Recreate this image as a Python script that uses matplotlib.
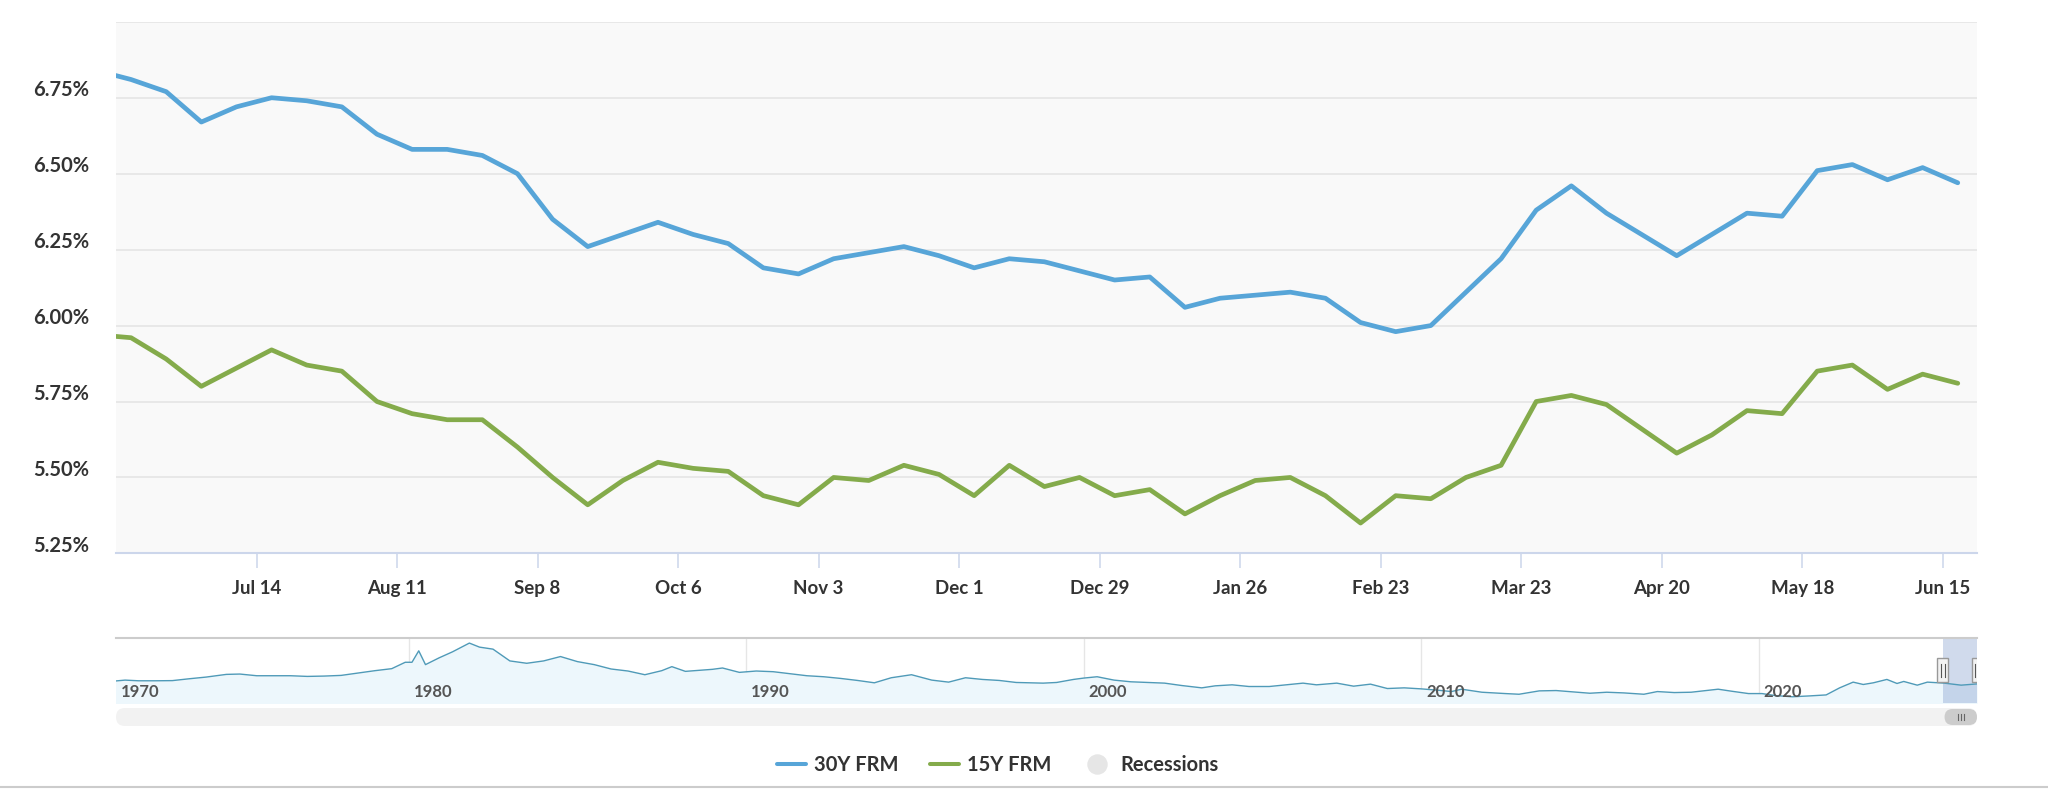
import matplotlib
matplotlib.use('Agg')
import matplotlib.pyplot as plt
import matplotlib.transforms as mtransforms
from matplotlib.lines import Line2D
from matplotlib.patches import FancyBboxPatch, Rectangle
from matplotlib import font_manager
import pandas as pd

# pick Lato if it is there, the reference uses a bold humanist sans
fuentes = {f.name for f in font_manager.fontManager.ttflist}
fuente = 'Lato' if 'Lato' in fuentes else 'DejaVu Sans'
plt.rcParams['font.family'] = [fuente, 'DejaVu Sans']

# ---- data: weekly PMMS rates (Thursdays) ----
fechas = pd.date_range('2025-06-12', '2026-06-18', freq='7D')

rate_30 = [6.84, 6.81, 6.77, 6.67, 6.72, 6.75, 6.74, 6.72, 6.63, 6.58,
           6.58, 6.56, 6.50, 6.35, 6.26, 6.30, 6.34, 6.30, 6.27, 6.19,
           6.17, 6.22, 6.24, 6.26, 6.23, 6.19, 6.22, 6.21, 6.18, 6.15,
           6.16, 6.06, 6.09, 6.10, 6.11, 6.09, 6.01, 5.98, 6.00, 6.11,
           6.22, 6.38, 6.46, 6.37, 6.30, 6.23, 6.30, 6.37, 6.36, 6.51,
           6.53, 6.48, 6.52, 6.47]

rate_15 = [5.97, 5.96, 5.89, 5.80, 5.86, 5.92, 5.87, 5.85, 5.75, 5.71,
           5.69, 5.69, 5.60, 5.50, 5.41, 5.49, 5.55, 5.53, 5.52, 5.44,
           5.41, 5.50, 5.49, 5.54, 5.51, 5.44, 5.54, 5.47, 5.50, 5.44,
           5.46, 5.38, 5.44, 5.49, 5.50, 5.44, 5.35, 5.44, 5.43, 5.50,
           5.54, 5.75, 5.77, 5.74, 5.66, 5.58, 5.64, 5.72, 5.71, 5.85,
           5.87, 5.79, 5.84, 5.81]

series_names = ['30Y FRM', '15Y FRM', 'Recessions']

x_tick_dates = ['2025-07-14', '2025-08-11', '2025-09-08', '2025-10-06',
                '2025-11-03', '2025-12-01', '2025-12-29', '2026-01-26',
                '2026-02-23', '2026-03-23', '2026-04-20', '2026-05-18',
                '2026-06-15']
x_tick_labels = ['Jul 14', 'Aug 11', 'Sep 8', 'Oct 6', 'Nov 3', 'Dec 1',
                 'Dec 29', 'Jan 26', 'Feb 23', 'Mar 23', 'Apr 20', 'May 18',
                 'Jun 15']

y_ticks = [5.25, 5.50, 5.75, 6.00, 6.25, 6.50, 6.75, 7.00]
y_tick_labels = ['5.25%', '5.50%', '5.75%', '6.00%', '6.25%', '6.50%', '6.75%', '']

# navigator: long history of the 30Y rate (approximate)
nav_years = [1971.3, 1971.6, 1972.0, 1972.5, 1973.0, 1973.5, 1974.0, 1974.6, 1975.0, 1975.5,
             1976.0, 1976.5, 1977.0, 1977.5, 1978.0, 1978.5, 1979.0, 1979.5, 1979.9, 1980.1,
             1980.3, 1980.5, 1980.9, 1981.3, 1981.8, 1982.1, 1982.5, 1983.0, 1983.5, 1984.0,
             1984.5, 1985.0, 1985.5, 1986.0, 1986.5, 1987.0, 1987.5, 1987.8, 1988.2, 1988.6,
             1989.0, 1989.3, 1989.8, 1990.3, 1990.8, 1991.3, 1991.8, 1992.3, 1992.8, 1993.3,
             1993.8, 1994.3, 1994.9, 1995.5, 1996.0, 1996.5, 1997.0, 1997.5, 1998.0, 1998.8,
             1999.2, 1999.7, 2000.0, 2000.4, 2000.9, 2001.4, 2001.9, 2002.4, 2002.9, 2003.5,
             2003.9, 2004.4, 2004.9, 2005.5, 2006.0, 2006.5, 2006.9, 2007.5, 2008.0, 2008.5,
             2009.0, 2009.5, 2010.0, 2010.5, 2010.9, 2011.2, 2011.8, 2012.5, 2012.9, 2013.5,
             2014.0, 2014.5, 2015.0, 2015.5, 2016.0, 2016.6, 2017.0, 2017.5, 2018.0, 2018.8,
             2019.2, 2019.7, 2020.1, 2020.5, 2021.0, 2021.5, 2022.0, 2022.4, 2022.8, 2023.1,
             2023.4, 2023.8, 2024.1, 2024.3, 2024.7, 2025.0, 2025.5, 2026.0, 2026.47]
nav_rates = [7.33, 7.6, 7.4, 7.4, 7.45, 8.0, 8.5, 9.3, 9.4, 8.9,
             8.9, 8.9, 8.7, 8.8, 9.0, 9.7, 10.4, 11.0, 12.9, 12.9,
             16.3, 12.2, 14.2, 16.0, 18.6, 17.4, 16.8, 13.3, 12.6, 13.3,
             14.6, 13.1, 12.2, 10.9, 10.3, 9.2, 10.4, 11.6, 10.2, 10.5,
             10.8, 11.2, 9.9, 10.3, 10.1, 9.5, 8.9, 8.6, 8.1, 7.5,
             6.8, 8.3, 9.2, 7.6, 7.0, 8.3, 7.8, 7.5, 6.9, 6.7,
             6.9, 7.8, 8.2, 8.6, 7.6, 7.1, 6.9, 6.7, 6.0, 5.3,
             5.9, 6.2, 5.7, 5.7, 6.2, 6.7, 6.2, 6.7, 5.8, 6.4,
             5.1, 5.3, 5.0, 4.6, 4.2, 4.9, 4.0, 3.6, 3.4, 4.4,
             4.5, 4.1, 3.7, 4.0, 3.8, 3.4, 4.2, 3.9, 4.0, 4.9,
             4.3, 3.6, 3.6, 3.0, 2.65, 2.9, 3.2, 5.3, 7.0, 6.3,
             6.8, 7.8, 6.6, 7.2, 6.1, 7.0, 6.7, 6.1, 6.47]

nav_decades = [1970, 1980, 1990, 2000, 2010, 2020]
nav_labels = ['1970', '1980', '1990', '2000', '2010', '2020']

sel_start, sel_end = 2025.45, 2026.47   # range shown in the main chart

c30 = '#57a5d8'
c15 = '#84ab4b'
texto = '#333333'

W, H = 2048, 789
fig = plt.figure(figsize=(W / 100, H / 100), dpi=100)


def fig_rect(x0, y0, x1, y1):
    # pixel box measured from the top-left -> figure fraction
    return [x0 / W, 1 - y1 / H, (x1 - x0) / W, (y1 - y0) / H]


# ---- main chart ----
ax = fig.add_axes(fig_rect(116, 21.8, 1977, 553.4))
ax.set_facecolor('#f9f9f9')
ax.plot(fechas, rate_30, color=c30, lw=3.4, solid_joinstyle='round', solid_capstyle='round', zorder=3)
ax.plot(fechas, rate_15, color=c15, lw=3.4, solid_joinstyle='round', solid_capstyle='round', zorder=3)
ax.set_xlim(pd.Timestamp('2025-06-16'), pd.Timestamp('2026-06-21 20:00'))
ax.set_ylim(5.25, 7.00)

ax.set_yticks(y_ticks)
ax.set_yticklabels(y_tick_labels)
ax.grid(axis='y', color='#e4e4e4', lw=1.1)
ax.set_axisbelow(True)
for s in ['top', 'left', 'right']:
    ax.spines[s].set_visible(False)
ax.spines['bottom'].set_color('#ccd6eb')
ax.spines['bottom'].set_linewidth(1.5)
ax.tick_params(axis='y', length=0, pad=19.4, labelsize=14.5, labelcolor=texto)

ax.set_xticks(pd.to_datetime(x_tick_dates))
ax.set_xticklabels(x_tick_labels)
ax.tick_params(axis='x', length=10.8, width=1.1, color='#ccd6eb', pad=8, labelsize=13.5, labelcolor=texto)
for lab in ax.get_xticklabels() + ax.get_yticklabels():
    lab.set_fontweight('bold')
# highcharts puts the y labels a little above their grid line
shift = mtransforms.ScaledTranslation(0, 9.6 / 100, fig.dpi_scale_trans)
for lab in ax.get_yticklabels():
    lab.set_transform(lab.get_transform() + shift)

# ---- navigator ----
nav_x0, nav_x1 = 1971.33, 2026.47
ax_nav = fig.add_axes(fig_rect(116, 637.7, 1977, 703))
ax_nav.fill_between(nav_years, nav_rates, 0, color='#edf7fc', lw=0)
ax_nav.plot(nav_years, nav_rates, color='#4f9ab8', lw=1.0)
ax_nav.set_xlim(nav_x0, nav_x1)
ax_nav.set_ylim(0.8, 20.2)
ax_nav.set_xticks(nav_decades[1:])
ax_nav.grid(axis='x', color='#e6e6e6', lw=1)
ax_nav.set_axisbelow(True)
ax_nav.tick_params(length=0, labelbottom=False, labelleft=False)
for s in ['bottom', 'left', 'right']:
    ax_nav.spines[s].set_visible(False)
ax_nav.spines['top'].set_color('#cccccc')
ax_nav.spines['top'].set_linewidth(1.5)
ax_nav.axvspan(sel_start, sel_end, color='#6685c2', alpha=0.3, lw=0)

off = mtransforms.ScaledTranslation(5 / 100, 0, fig.dpi_scale_trans)
blend = mtransforms.blended_transform_factory(ax_nav.transData, ax_nav.transAxes)
for d, lab in zip(nav_decades, nav_labels):
    ax_nav.text(max(d, nav_x0), 0.17, lab, transform=blend + off, ha='left', va='center',
                fontsize=12, color='#555555', fontweight='bold')


def to_px(yr):
    return (yr - nav_x0) / (nav_x1 - nav_x0) * 1861


# handles of the selected range (pixel overlay)
ax_ui = fig.add_axes(fig_rect(116, 637.7, 1977, 703))
ax_ui.set_xlim(0, 1861)
ax_ui.set_ylim(65.3, 0)
ax_ui.axis('off')
for xp in [to_px(sel_start), to_px(sel_end)]:
    ax_ui.add_patch(Rectangle((xp - 5.5, 20.5), 11, 24, fc='#f2f2f2', ec='#999999', lw=1, clip_on=True))
    for dx in [-2, 2]:
        ax_ui.plot([xp + dx, xp + dx], [26, 39], color='#555555', lw=0.8, clip_on=True)

# scrollbar
ax_sb = fig.add_axes(fig_rect(116, 708, 1977, 726))
ax_sb.set_xlim(0, 1861)
ax_sb.set_ylim(18, 0)
ax_sb.axis('off')
ax_sb.add_patch(FancyBboxPatch((0, 0), 1861, 18, boxstyle='round,pad=0,rounding_size=9',
                               fc='#f2f2f2', ec='none'))
t0 = to_px(sel_start) + 2
ax_sb.add_patch(FancyBboxPatch((t0, 1), 1861 - t0, 16, boxstyle='round,pad=0,rounding_size=8',
                               fc='#cccccc', ec='none'))
tc = (t0 + 1861) / 2
for dx in [-3, 0, 3]:
    ax_sb.plot([tc + dx, tc + dx], [6, 12], color='#666666', lw=0.8)

# ---- legend ----
handles = [Line2D([], [], color=c30, lw=2.9, solid_capstyle='round'),
           Line2D([], [], color=c15, lw=2.9, solid_capstyle='round'),
           Line2D([], [], ls='none', marker='o', ms=13.7, mfc='#e6e6e6', mec='#e6e6e6')]
leg = fig.legend(handles, series_names, loc='center', bbox_to_anchor=(997.5 / W, 1 - 765 / H),
                 ncol=3, frameon=False, prop={'weight': 'bold', 'size': 14.5},
                 handlelength=1.45, handletextpad=0.4, columnspacing=1.55)
for t in leg.get_texts():
    t.set_color(texto)

fig.add_artist(Line2D([0, 1], [1 - 787 / H, 1 - 787 / H], transform=fig.transFigure,
                      color='#cccccc', lw=1.5))

fig.savefig('out.png', dpi=100)
